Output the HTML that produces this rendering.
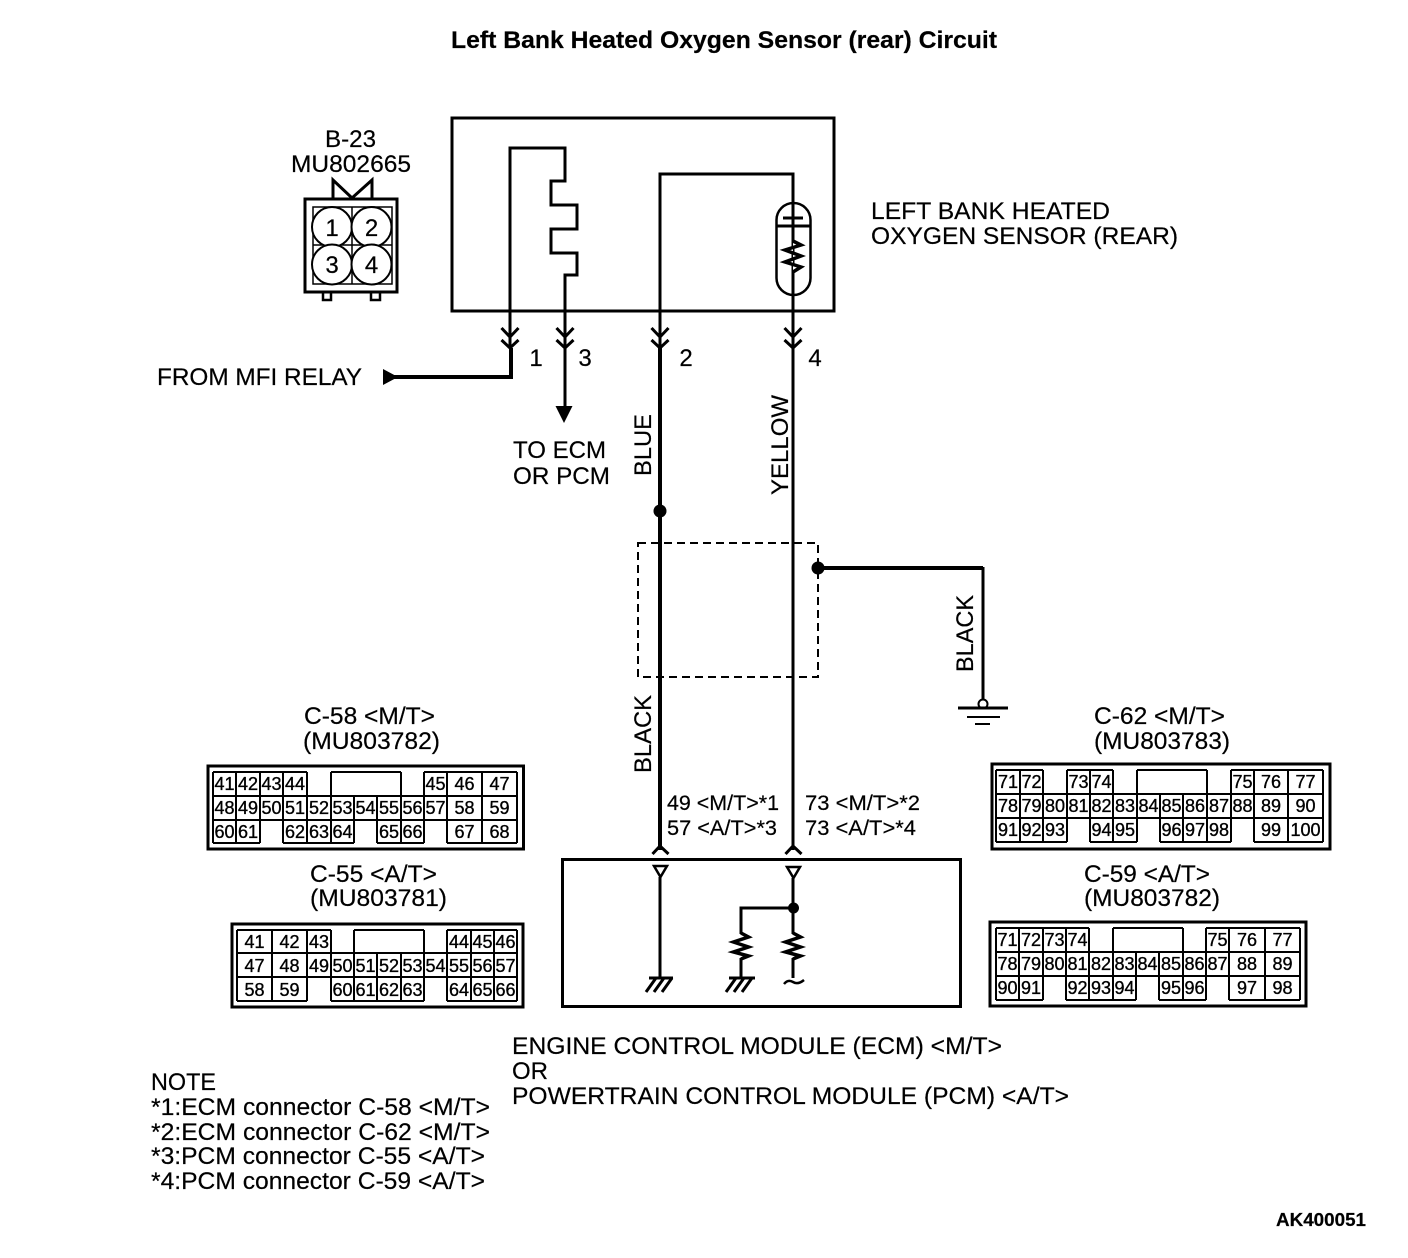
<!DOCTYPE html>
<html><head><meta charset="utf-8"><style>
html,body{margin:0;padding:0;background:#fff}
svg{display:block}
text{font-family:"Liberation Sans",sans-serif;fill:#000;font-size:24px;stroke:#000;stroke-width:.2px}
.n text{font-size:18px;text-anchor:middle;stroke-width:.35px}
</style></head><body>
<svg width="1408" height="1258" viewBox="0 0 1408 1258" xmlns="http://www.w3.org/2000/svg">
<text x="451" y="48" textLength="546" lengthAdjust="spacingAndGlyphs" style="font-weight:bold;font-size:24px">Left Bank Heated Oxygen Sensor (rear) Circuit</text>

<g fill="none" stroke="#000">
<rect x="452" y="118" width="382" height="193" stroke-width="3"/>
<path stroke-width="3" d="M510 348V148H565V181H551V205H577V229H551V253H577V275H565V408"/>
<path stroke-width="3" d="M660 350V174H793V850"/>
<rect x="776.5" y="203" width="34" height="92" rx="17" stroke-width="2.5"/>
<path stroke-width="3.5" fill="#fff" d="M793 241L801 245L785 250L801 256L785 262L801 267L793 272"/>
<path stroke-width="3" d="M783 218H803M776 226H811"/>
<path stroke-width="3" d="M501.500 328L510 337L518.500 328M501.500 340L510 348L518.500 340M556.500 328L565 337L573.500 328M556.500 340L565 348L573.500 340M651.500 328L660 337L668.500 328M651.500 340L660 348L668.500 340M784.500 328L793 337L801.500 328M784.500 340L793 348L801.500 340"/>
<path stroke-width="4" d="M511 348V377H392"/>
<path stroke-width="4" d="M660 348V850"/>
<path stroke-width="3" d="M652.500 854L660 846L668.500 854M785.500 854L793 846L801.500 854"/>
<rect x="638" y="543" width="180" height="134" stroke-width="2" stroke-dasharray="8 5"/>
<path stroke-width="4" d="M818 568H983"/>
<path stroke-width="3" d="M983 567V699"/>
<circle cx="983" cy="704" r="4.5" stroke-width="2"/>
<path stroke-width="3" d="M958 708H1008"/>
<path stroke-width="2" d="M967 717H1000M975 724H990"/>

<!-- ECM -->
<rect x="562.5" y="859.5" width="398" height="147" stroke-width="3"/>
<path stroke-width="3" d="M660 877V978M793 878V934M793 908H741V934M741 958V978M793 958V978M649 978H673M729 978H755"/>
<path stroke-width="2.5" d="M654 866H667L660.5 877ZM787 867H800L793.500 878Z"/>
<path stroke-width="3.500" d="M793 933L800.500 937L785.500 942L800.500 947L785.500 952L800.500 956L793 959M741 933L748.500 937L733.500 942L748.500 947L733.500 952L748.500 956L741 959"/>
<path stroke-width="3" d="M656 978L646 992M664 978L654 992M672 978L662 992M736 978L726 992M744 978L734 992M752 978L742 992"/>
<path stroke-width="2.500" d="M784 984Q788 979 793 982T804 980"/>

<!-- B-23 connector -->
<rect x="305" y="199" width="92" height="93" stroke-width="3"/>
<path stroke-width="3" d="M333 198V180L352 198L372 180V198"/>
<path stroke-width="2.500" d="M323 293V300H331V293M371 293V300H380V293"/>
<rect x="313" y="207" width="79" height="77" stroke-width="1.500"/>
<path stroke-width="1.500" d="M352 207V284M313 245H392"/>
<g stroke-width="2" fill="#fff">
<circle cx="332" cy="227" r="20"/><circle cx="371.500" cy="227" r="20"/><circle cx="332" cy="264.500" r="20"/><circle cx="371.500" cy="264.500" r="20"/>
</g>

<!-- connector frames -->
<rect x="208" y="766" width="315.500" height="83" stroke-width="3"/>
<rect x="232" y="924" width="291" height="83" stroke-width="3"/>
<rect x="992" y="764" width="338" height="85" stroke-width="3"/>
<rect x="990" y="922" width="316" height="84" stroke-width="3"/>

<g stroke-width="2" shape-rendering="crispEdges">
<path d="M213 772H307M331 772H401M424 772H517M213 796H517M213 820H517M213 843H260M283 843H354M377 843H424M447 843H517M213 772V843M236 772V843M260 772V843M283 772V843M307 772V843M331 772V843M354 796V843M377 796V843M401 772V843M424 772V843M447 772V843M482 772V843M517 772V843"/>
<path d="M237 930H331M354 930H424M447 930H517M237 953H517M237 977H517M237 1001H307M331 1001H424M447 1001H517M237 930V1001M272 930V1001M307 930V1001M331 930V1001M354 930V1001M377 953V1001M401 953V1001M424 930V1001M447 930V1001M471 930V1001M494 930V1001M517 930V1001"/>
<path d="M996 770H1043M1067 770H1113M1137 770H1207M1231 770H1323M996 794H1323M996 818H1323M996 842H1067M1090 842H1137M1160 842H1231M1254 842H1323M996 770V842M1020 770V842M1043 770V842M1067 770V842M1090 770V842M1113 770V842M1137 770V842M1160 794V842M1183 794V842M1207 770V842M1231 770V842M1254 770V842M1288 770V842M1323 770V842"/>
<path d="M996 928H1089M1113 928H1183M1206 928H1300M996 952H1300M996 976H1300M996 1000H1043M1066 1000H1136M1159 1000H1206M1229 1000H1300M996 928V1000M1019 928V1000M1043 928V1000M1066 928V1000M1089 928V1000M1113 928V1000M1136 952V1000M1159 952V1000M1183 928V1000M1206 928V1000M1229 928V1000M1265 928V1000M1300 928V1000"/>
</g>
</g>

<path d="M555.500 406H572.500L564 423ZM383 369L398 377L383 385Z"/>
<circle cx="660" cy="511" r="6.500"/>
<circle cx="818" cy="568" r="6.500"/>
<circle cx="793.500" cy="908" r="5.500"/>

<!-- labels -->
<text x="325" y="147" textLength="51" lengthAdjust="spacingAndGlyphs">B-23</text>
<text x="291" y="172" textLength="120" lengthAdjust="spacingAndGlyphs">MU802665</text>
<g style="text-anchor:middle">
<text x="332" y="236" style="font-size:24px">1</text><text x="371.500" y="236" style="font-size:24px">2</text><text x="332" y="273" style="font-size:24px">3</text><text x="371.500" y="273" style="font-size:24px">4</text>
<text x="536" y="366">1</text><text x="585" y="366">3</text><text x="686" y="366">2</text><text x="815" y="366">4</text>
</g>
<text x="871" y="219" textLength="239" lengthAdjust="spacingAndGlyphs">LEFT BANK HEATED</text>
<text x="871" y="244" textLength="307" lengthAdjust="spacingAndGlyphs">OXYGEN SENSOR (REAR)</text>
<text x="157" y="385" textLength="205" lengthAdjust="spacingAndGlyphs">FROM MFI RELAY</text>
<text x="513" y="458" textLength="93" lengthAdjust="spacingAndGlyphs">TO ECM</text>
<text x="513" y="484" textLength="97" lengthAdjust="spacingAndGlyphs">OR PCM</text>
<text transform="translate(651,476) rotate(-90)" textLength="62" lengthAdjust="spacingAndGlyphs">BLUE</text>
<text transform="translate(651,773) rotate(-90)" textLength="78" lengthAdjust="spacingAndGlyphs">BLACK</text>
<text transform="translate(788,495) rotate(-90)" textLength="100" lengthAdjust="spacingAndGlyphs">YELLOW</text>
<text transform="translate(973,672) rotate(-90)" textLength="77" lengthAdjust="spacingAndGlyphs">BLACK</text>
<text x="304" y="724" textLength="131" lengthAdjust="spacingAndGlyphs">C-58 &lt;M/T&gt;</text>
<text x="303" y="749" textLength="137" lengthAdjust="spacingAndGlyphs">(MU803782)</text>
<text x="310" y="882" textLength="127" lengthAdjust="spacingAndGlyphs">C-55 &lt;A/T&gt;</text>
<text x="310" y="906" textLength="137" lengthAdjust="spacingAndGlyphs">(MU803781)</text>
<text x="1094" y="724" textLength="131" lengthAdjust="spacingAndGlyphs">C-62 &lt;M/T&gt;</text>
<text x="1094" y="749" textLength="136" lengthAdjust="spacingAndGlyphs">(MU803783)</text>
<text x="1084" y="882" textLength="126" lengthAdjust="spacingAndGlyphs">C-59 &lt;A/T&gt;</text>
<text x="1084" y="906" textLength="136" lengthAdjust="spacingAndGlyphs">(MU803782)</text>
<text x="667" y="810" textLength="112" lengthAdjust="spacingAndGlyphs" style="font-size:21px">49 &lt;M/T&gt;*1</text>
<text x="667" y="835" textLength="110" lengthAdjust="spacingAndGlyphs" style="font-size:21px">57 &lt;A/T&gt;*3</text>
<text x="805" y="810" textLength="115" lengthAdjust="spacingAndGlyphs" style="font-size:21px">73 &lt;M/T&gt;*2</text>
<text x="805" y="835" textLength="111" lengthAdjust="spacingAndGlyphs" style="font-size:21px">73 &lt;A/T&gt;*4</text>
<text x="512" y="1054" textLength="490" lengthAdjust="spacingAndGlyphs">ENGINE CONTROL MODULE (ECM) &lt;M/T&gt;</text>
<text x="512" y="1079" textLength="36" lengthAdjust="spacingAndGlyphs">OR</text>
<text x="512" y="1104" textLength="557" lengthAdjust="spacingAndGlyphs">POWERTRAIN CONTROL MODULE (PCM) &lt;A/T&gt;</text>
<text x="151" y="1090" textLength="65" lengthAdjust="spacingAndGlyphs">NOTE</text>
<text x="151" y="1115" textLength="339" lengthAdjust="spacingAndGlyphs">*1:ECM connector C-58 &lt;M/T&gt;</text>
<text x="151" y="1140" textLength="339" lengthAdjust="spacingAndGlyphs">*2:ECM connector C-62 &lt;M/T&gt;</text>
<text x="151" y="1164" textLength="334" lengthAdjust="spacingAndGlyphs">*3:PCM connector C-55 &lt;A/T&gt;</text>
<text x="151" y="1189" textLength="334" lengthAdjust="spacingAndGlyphs">*4:PCM connector C-59 &lt;A/T&gt;</text>
<text x="1276" y="1226" textLength="90" lengthAdjust="spacingAndGlyphs" style="font-weight:bold;font-size:18px">AK400051</text>

<g class="n">
<!-- C-58 -->
<text x="224.500" y="790">41</text><text x="248" y="790">42</text><text x="271.500" y="790">43</text><text x="295" y="790">44</text><text x="435.500" y="790">45</text><text x="464.500" y="790">46</text><text x="499.500" y="790">47</text>
<text x="224.500" y="814">48</text><text x="248" y="814">49</text><text x="271.500" y="814">50</text><text x="295" y="814">51</text><text x="319" y="814">52</text><text x="342.500" y="814">53</text><text x="365.500" y="814">54</text><text x="389" y="814">55</text><text x="412.500" y="814">56</text><text x="435.500" y="814">57</text><text x="464.500" y="814">58</text><text x="499.500" y="814">59</text>
<text x="224.500" y="838">60</text><text x="248" y="838">61</text><text x="295" y="838">62</text><text x="319" y="838">63</text><text x="342.500" y="838">64</text><text x="389" y="838">65</text><text x="412.500" y="838">66</text><text x="464.500" y="838">67</text><text x="499.500" y="838">68</text>
<!-- C-55 -->
<text x="254.500" y="948">41</text><text x="289.500" y="948">42</text><text x="319" y="948">43</text><text x="459" y="948">44</text><text x="482.500" y="948">45</text><text x="505.500" y="948">46</text>
<text x="254.500" y="972">47</text><text x="289.500" y="972">48</text><text x="319" y="972">49</text><text x="342.500" y="972">50</text><text x="365.500" y="972">51</text><text x="389" y="972">52</text><text x="412.500" y="972">53</text><text x="435.500" y="972">54</text><text x="459" y="972">55</text><text x="482.500" y="972">56</text><text x="505.500" y="972">57</text>
<text x="254.500" y="996">58</text><text x="289.500" y="996">59</text><text x="342.500" y="996">60</text><text x="365.500" y="996">61</text><text x="389" y="996">62</text><text x="412.500" y="996">63</text><text x="459" y="996">64</text><text x="482.500" y="996">65</text><text x="505.500" y="996">66</text>
<!-- C-62 -->
<text x="1008" y="788">71</text><text x="1031.500" y="788">72</text><text x="1078.500" y="788">73</text><text x="1101.500" y="788">74</text><text x="1242.500" y="788">75</text><text x="1271" y="788">76</text><text x="1305.500" y="788">77</text>
<text x="1008" y="812">78</text><text x="1031.500" y="812">79</text><text x="1055" y="812">80</text><text x="1078.500" y="812">81</text><text x="1101.500" y="812">82</text><text x="1125" y="812">83</text><text x="1148.500" y="812">84</text><text x="1171.500" y="812">85</text><text x="1195" y="812">86</text><text x="1219" y="812">87</text><text x="1242.500" y="812">88</text><text x="1271" y="812">89</text><text x="1305.500" y="812">90</text>
<text x="1008" y="836">91</text><text x="1031.500" y="836">92</text><text x="1055" y="836">93</text><text x="1101.500" y="836">94</text><text x="1125" y="836">95</text><text x="1171.500" y="836">96</text><text x="1195" y="836">97</text><text x="1219" y="836">98</text><text x="1271" y="836">99</text><text x="1305.500" y="836">100</text>
<!-- C-59 -->
<text x="1007.500" y="946">71</text><text x="1031" y="946">72</text><text x="1054.500" y="946">73</text><text x="1077.500" y="946">74</text><text x="1217.500" y="946">75</text><text x="1247" y="946">76</text><text x="1282.500" y="946">77</text>
<text x="1007.500" y="970">78</text><text x="1031" y="970">79</text><text x="1054.500" y="970">80</text><text x="1077.500" y="970">81</text><text x="1101" y="970">82</text><text x="1124.500" y="970">83</text><text x="1147.500" y="970">84</text><text x="1171" y="970">85</text><text x="1194.500" y="970">86</text><text x="1217.500" y="970">87</text><text x="1247" y="970">88</text><text x="1282.500" y="970">89</text>
<text x="1007.500" y="994">90</text><text x="1031" y="994">91</text><text x="1077.500" y="994">92</text><text x="1101" y="994">93</text><text x="1124.500" y="994">94</text><text x="1171" y="994">95</text><text x="1194.500" y="994">96</text><text x="1247" y="994">97</text><text x="1282.500" y="994">98</text>
</g>
</svg>
</body></html>
